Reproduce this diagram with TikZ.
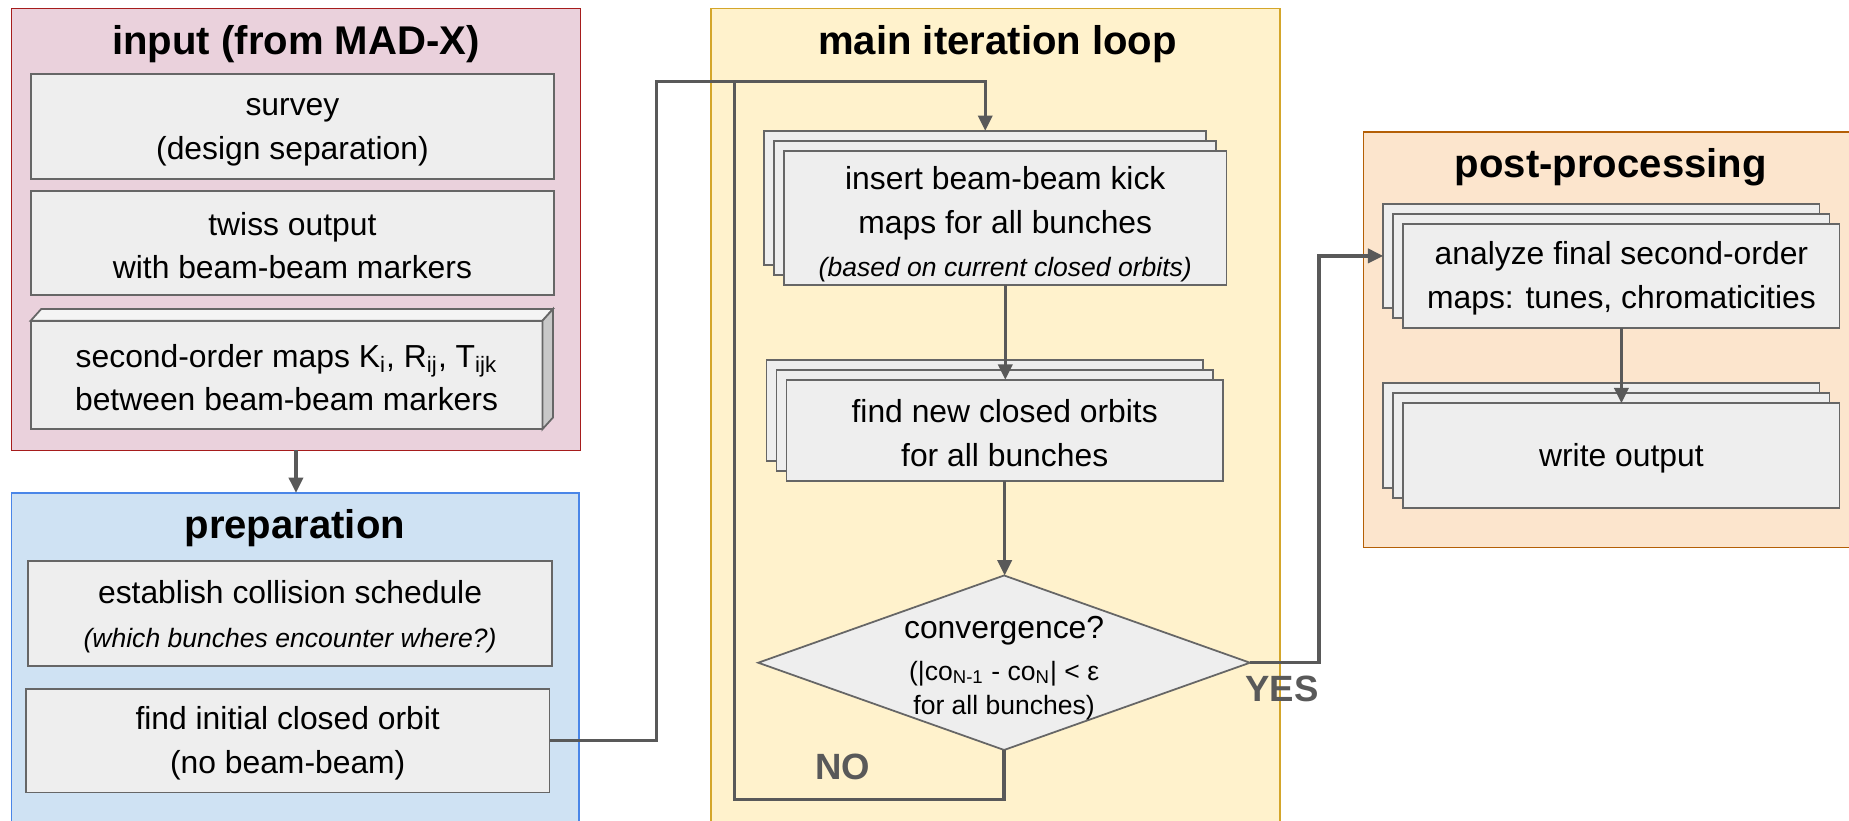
\documentclass[tikz,border=0pt]{standalone}
\usepackage{fontspec}
\setmainfont{Liberation Sans}
\usetikzlibrary{arrows.meta,shadows,shapes.geometric,fit}

\definecolor{inFill}{HTML}{EAD1DC}
\definecolor{inLine}{HTML}{A61C1C}
\definecolor{prFill}{HTML}{CFE2F3}
\definecolor{prLine}{HTML}{4A86E8}
\definecolor{mlFill}{HTML}{FFF2CC}
\definecolor{mlLine}{HTML}{D4A62A}
\definecolor{ppFill}{HTML}{FCE5CD}
\definecolor{ppLine}{HTML}{B45F06}
\definecolor{boxFill}{HTML}{EEEEEE}
\definecolor{boxLine}{HTML}{666666}
\definecolor{boxTop}{HTML}{F4F4F4}
\definecolor{boxSide}{HTML}{C8C8C8}
\definecolor{connCol}{HTML}{595959}

\newcommand\txtbody{\fontsize{13.5}{18.5}\selectfont}
\newcommand\txtsmall{\fontsize{11.25}{14.5}\selectfont}
\newcommand\txttitle{\bfseries\fontsize{17}{20}\selectfont}
\newcommand\txtlabel{\bfseries\fontsize{15.5}{18}\selectfont}
% invisible strut that sets the height of a first text line
\newcommand\lift[1]{\rule{0pt}{#1}}

\begin{document}
\begin{tikzpicture}[x=0.5pt,y=-0.5pt,
  group/.style={draw, line width=0.55pt, inner sep=0pt, outer sep=0pt},
  title/.style={font=\txttitle, inner sep=0pt, anchor=base},
  box/.style={draw=boxLine, fill=boxFill, line width=0.75pt, inner sep=0pt,
    outer sep=0pt, align=center, font=\txtbody},
  stack/.style={box, double copy shadow={shadow xshift=-4.25pt,
    shadow yshift=4.25pt, fill=boxFill, draw=boxLine, line width=0.75pt}},
  decision/.style={diamond, aspect=2.84, minimum width=208.5pt,
    minimum height=74pt, inner sep=-4pt, outer sep=0pt, draw=boxLine,
    fill=boxFill, line width=0.75pt, align=center, font=\txtsmall},
  answer/.style={font=\txtlabel, text=connCol, inner sep=0pt},
  conn/.style={draw=connCol, line width=1.4pt},
  arr/.style={conn, -{Triangle[width=6pt,length=6.5pt]}}]

\useasboundingbox (0,0) rectangle (1568,696);
\clip (0,0) rectangle (1568,696);

% ---- input stage
\node[group, fill=inFill, draw=inLine, fit={(10,7) (492,382)}] (input) {};
\node[title] (inputT) at (251,46.5) {input (from MAD-X)};
\node[box, minimum width=222pt, minimum height=44.5pt] (survey) at (248,107.5)
  {\lift{12pt}survey\\(design separation)};
\node[box, minimum width=222pt, minimum height=44pt] (twiss) at (248,206)
  {\lift{12pt}twiss output\\with beam-beam markers};
\node[box, minimum width=217pt, minimum height=46pt] (maps) at (243,318)
  {\lift{12pt}second-order maps K\textsubscript{i}, R\textsubscript{ij}, T\textsubscript{ijk}\\between beam-beam markers};
% block faces of the map box
\draw[draw=boxLine, fill=boxTop, line width=0.75pt]
  (maps.north west) -- ++(9,-10) -- ([shift={(9,-10)}]maps.north east)
  -- (maps.north east) -- cycle;
\draw[draw=boxLine, fill=boxSide, line width=0.75pt]
  (maps.north east) -- ++(9,-10) -- ([shift={(9,-10)}]maps.south east)
  -- (maps.south east) -- cycle;

% ---- preparation stage
\node[group, fill=prFill, draw=prLine, fit={(10,418) (491,720)}] (prep) {};
\node[title] (prepT) at (250,457) {preparation};
\node[box, minimum width=222pt, minimum height=44.5pt] (sched) at (246,520.5)
  {\lift{12pt}establish collision schedule\\{\txtsmall\itshape (which bunches encounter where?)}};
\node[box, minimum width=222pt, minimum height=44pt] (init) at (244,628)
  {\lift{12pt}find initial closed orbit\\(no beam-beam)};

% ---- main loop
\node[group, fill=mlFill, draw=mlLine, fit={(603,7) (1085.5,720)}] (loop) {};
\node[title] (loopT) at (846,46.5) {main iteration loop};
\node[stack, minimum width=187.5pt, minimum height=57pt] (kick) at (852.5,185)
  {\lift{15pt}insert beam-beam kick\\maps for all bunches\\{\txtsmall\itshape (based on current closed orbits)}};
\node[stack, minimum width=185pt, minimum height=43pt] (orbit) at (852,365)
  {\lift{12pt}find new closed orbits\\for all bunches};
\node[decision] (conv) at (851.5,562)
  {{\txtbody\lift{14pt}convergence?}\\[3pt](|co\textsubscript{N-1} - co\textsubscript{N}| < ε\\for all bunches)};
\node[answer] (yes) at (1087,584) {YES};
\node[answer] (no) at (714.5,650) {NO};

% ---- post-processing
\node[group, fill=ppFill, draw=ppLine, fit={(1156,112) (1620,464.5)}] (post) {};
\node[title] (postT) at (1366,150.5) {post-processing};
\node[stack, minimum width=185pt, minimum height=44pt] (ana) at (1375,234)
  {\lift{12pt}analyze final second-order\\maps: tunes, chromaticities};
\node[stack, minimum width=185pt, minimum height=44.5pt] (out) at (1375,386.5)
  {\lift{12pt}write output};

% ---- connectors
\coordinate (split) at (557,69);
\coordinate (merge) at (623,69);
\coordinate (nocorner) at (623,678);
\coordinate (kickin) at ([xshift=-8.5pt,yshift=8.5pt]kick.north);
\coordinate (anain) at ([xshift=-8.5pt,yshift=8.5pt]ana.west);

\draw[arr] (input.south) -- (input.south |- prep.north);
\draw[arr] (init.east) -| (split) -| (kickin);
\draw[arr] (kick.south) -- (kick.south |- orbit.north);
\draw[arr] (orbit.south) -- (orbit.south |- conv.north);
\draw[conn] (conv.south) |- (nocorner) -- (merge);
\draw[arr] (conv.east) -| ([xshift=-27.25pt]anain) -- (anain);
\draw[arr] (ana.south) -- (ana.south |- out.north);
\end{tikzpicture}
\end{document}
